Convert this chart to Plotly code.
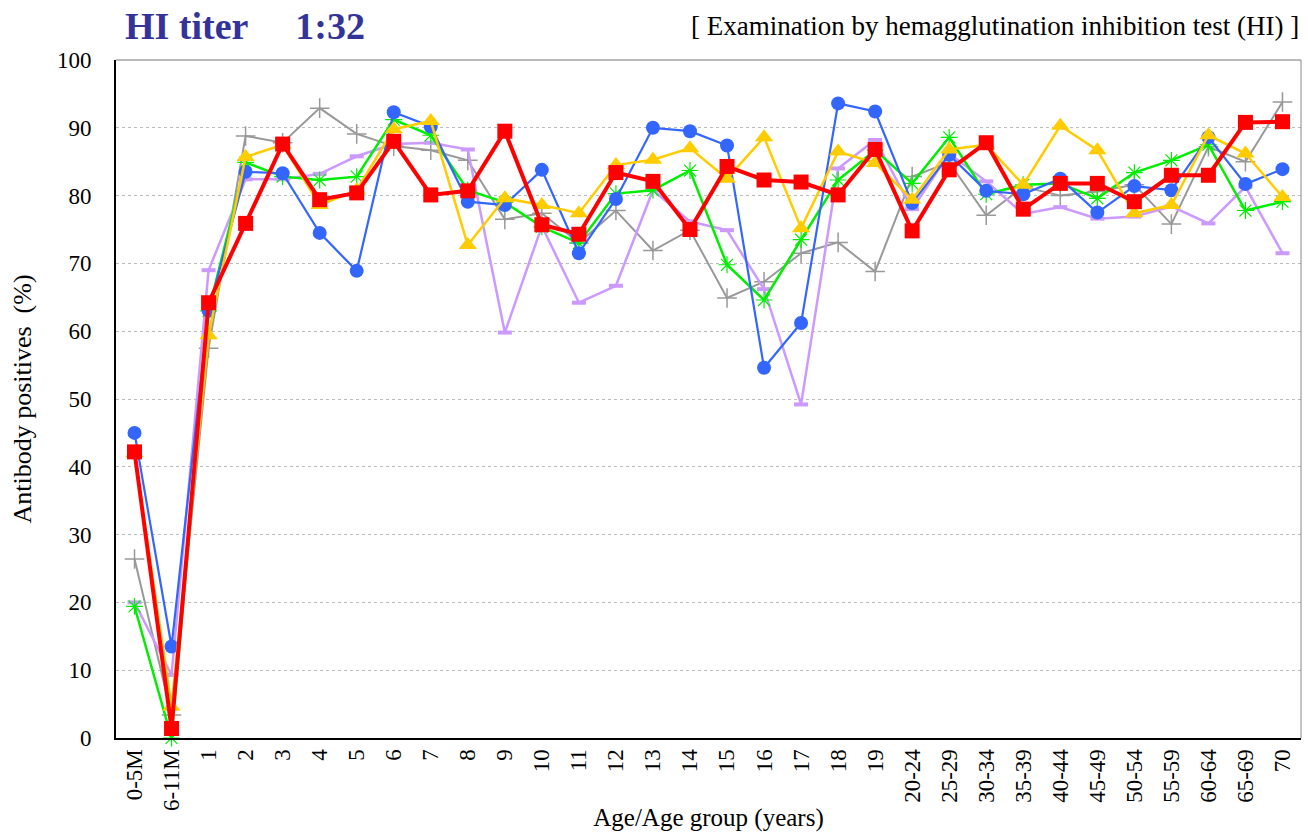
import plotly.graph_objects as go

categories = ["0-5M", "6-11M", "1", "2", "3", "4", "5", "6", "7", "8", "9", "10",
              "11", "12", "13", "14", "15", "16", "17", "18", "19", "20-24", "25-29",
              "30-34", "35-39", "40-44", "45-49", "50-54", "55-59", "60-64", "65-69", "70"]

gray_vals = [26.4, 3.4, 57.5, 88.8, 87.8, 92.9, 89.1, 87.3, 86.7, 85.2, 76.5, 77.4,
             73.0, 77.8, 71.9, 74.9, 64.9, 67.3, 71.5, 73.1, 68.8, 82.8, 84.9,
             77.1, 81.3, 80.0, 80.6, 81.6, 75.8, 87.2, 85.0, 93.8]
violet_vals = [20.0, 9.3, 69.0, 82.4, 82.4, 83.2, 85.8, 87.6, 87.8, 86.8, 59.8, 75.5,
               64.2, 66.7, 80.8, 76.2, 74.9, 66.2, 49.2, 84.0, 88.2, 78.0, 86.2,
               82.1, 77.3, 78.3, 76.6, 76.9, 78.4, 75.9, 81.3, 71.5]
green_vals = [19.4, 0.0, 63.0, 84.9, 82.8, 82.3, 82.8, 91.2, 88.9, 80.8, 79.0, 75.4,
              73.0, 80.3, 80.8, 83.7, 69.8, 64.6, 73.5, 82.3, 86.7, 81.8, 88.6,
              80.2, 81.6, 81.8, 79.6, 83.4, 85.2, 87.5, 77.8, 79.1]
blue_vals = [45.0, 13.5, 63.0, 83.5, 83.3, 74.5, 68.9, 92.3, 90.2, 79.1, 78.6, 83.8,
             71.5, 79.5, 90.0, 89.5, 87.4, 54.6, 61.2, 93.6, 92.4, 78.9, 86.0,
             80.7, 80.2, 82.5, 77.5, 81.4, 80.8, 88.6, 81.7, 83.9]
yellow_vals = [42.0, 4.6, 59.4, 85.7, 87.5, 78.6, 80.8, 89.8, 91.0, 72.7, 79.6, 78.6,
               77.4, 84.5, 85.3, 87.0, 82.5, 88.6, 75.2, 86.5, 84.8, 79.4, 86.8,
               87.5, 81.6, 90.3, 86.7, 77.4, 78.6, 88.9, 86.2, 79.8]
red_vals = [42.2, 1.4, 64.2, 75.9, 87.6, 79.4, 80.4, 88.0, 80.1, 80.7, 89.5, 75.7,
            74.3, 83.4, 82.1, 75.0, 84.3, 82.3, 82.0, 80.1, 86.8, 74.8, 83.8,
            87.8, 78.0, 81.8, 81.8, 79.1, 83.0, 83.0, 90.8, 90.9]

y_ticks = [0, 10, 20, 30, 40, 50, 60, 70, 80, 90, 100]

FONT = "Liberation Serif"

fig = go.Figure()

series = [
    ("gray", gray_vals, "#999999", 2, dict(symbol="cross-thin-open", size=14, line=dict(color="#999999", width=1.5))),
    ("violet", violet_vals, "#CC99FF", 2.5, dict(symbol="line-ew-open", size=10, line=dict(color="#CC99FF", width=4))),
    ("green", green_vals, "#00EE00", 2.5, dict(symbol="asterisk-open", size=14, line=dict(color="#00EE00", width=1.2))),
    ("blue", blue_vals, "#3366FF", 2.2, dict(symbol="circle", size=14, color="#3366FF")),
    ("yellow", yellow_vals, "#FFCC00", 2.5, dict(symbol="triangle-up", size=16, color="#FFCC00")),
    ("red", red_vals, "#FF0000", 4, dict(symbol="square", size=15, color="#FF0000")),
]

for name, vals, col, w, mk in series:
    fig.add_trace(go.Scatter(
        x=categories, y=vals, mode="lines+markers", name=name,
        line=dict(color=col, width=w), marker=mk, showlegend=False,
        cliponaxis=False,
    ))

fig.update_layout(
    width=1308, height=832,
    margin=dict(l=116, r=7, t=60, b=94),
    paper_bgcolor="white", plot_bgcolor="white",
    font=dict(family=FONT, size=23, color="black"),
    xaxis=dict(
        type="category", range=[-0.5, 31.5], tickangle=-90,
        showgrid=False, showline=True, linecolor="black", linewidth=2,
        mirror=False, ticks="", tickfont=dict(family=FONT, size=23),
        title=dict(text="Age/Age group (years)", font=dict(family=FONT, size=25), standoff=2),
        automargin=False,
    ),
    yaxis=dict(
        range=[0, 100], tickvals=y_ticks, showgrid=True, gridcolor="#BBBBBB",
        griddash="dot", gridwidth=1, showline=True, linecolor="black", linewidth=2,
        ticks="", tickfont=dict(family=FONT, size=23), ticklabelstandoff=18,
        title=dict(text="Antibody positives  (%)", font=dict(family=FONT, size=26), standoff=18),
        zeroline=False, automargin=False,
    ),
    shapes=[
        dict(type="line", xref="paper", yref="paper", x0=0, x1=1, y0=1, y1=1,
             line=dict(color="#777777", width=1)),
        dict(type="line", xref="paper", yref="paper", x0=1, x1=1, y0=0, y1=1,
             line=dict(color="#888888", width=1)),
    ],
    annotations=[
        dict(text="<b>HI titer　 1:32</b>", xref="paper", yref="paper", x=0.006, y=1.0,
             yshift=11, xanchor="left", yanchor="bottom", showarrow=False,
             font=dict(family=FONT, size=38, color="#333399")),
        dict(text="[ Examination by hemagglutination inhibition test (HI) ]", xref="paper",
             yref="paper", x=1.0, y=1.0, yshift=17, xanchor="right", yanchor="bottom",
             showarrow=False, font=dict(family=FONT, size=27, color="black")),
    ],
)

fig.write_html("out.html", config={"displayModeBar": False},
               post_script="document.body.style.margin='0';document.body.style.overflow='hidden';")
